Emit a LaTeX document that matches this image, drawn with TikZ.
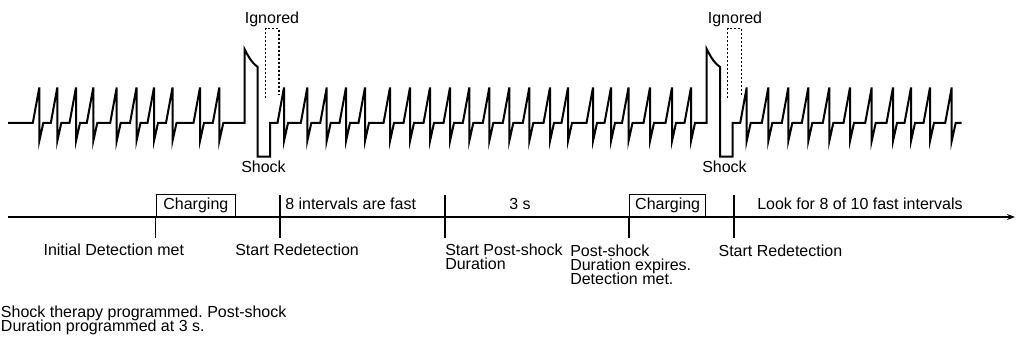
\documentclass[tikz,border=0pt]{standalone}
\usepackage{fontspec}
\setmainfont{Liberation Sans}
\usetikzlibrary{arrows.meta}
\newcommand{\lblfont}{\fontsize{12}{10.5}\selectfont\frenchspacing\lineskiplimit-20pt\relax}
\begin{document}
\begin{tikzpicture}[x=0.75pt,y=-0.75pt,
  ecg/.style={line width=1.5pt, line join=miter},
  axisline/.style={line width=1pt},
  tickline/.style={line width=1pt},
  txt/.style={font=\lblfont},
  chargebox/.style={txt, draw, line width=1pt, inner sep=0pt, minimum height=16.5pt, anchor=south west},
  lbl/.style={txt, inner sep=0pt, anchor=base west, align=left},
  clbl/.style={txt, inner sep=0pt, anchor=base},
  ignbox/.style={line width=0.8pt, dash pattern=on 1.5pt off 1.5pt}]
\useasboundingbox (0,0) rectangle (1016,342);

% ECG trace
\draw[ecg] (8,123)
  \foreach \p in {39.3,57.3,76,93.3,116.7,136.5,154,172.5,200,219.3}{ -- (\p-6.5,123) -- (\p,87.5) -- (\p,141) -- (\p+4,123)}
  -- (244.5,123) -- (244.5,49) .. controls (247.5,55) and (251,62) .. (257.7,67) -- (257.7,156.7) -- (270,156.7) -- (270,123)
  \foreach \p in {284,307.3,326.7,346,365,390,410,430,450,469.3,489.3,509.3,529.3,550,568,593,611,628.5,650,672,691}{ -- (\p-6.5,123) -- (\p,87.5) -- (\p,141) -- (\p+4,123)}
  -- (706.7,123) -- (706.7,49) .. controls (709.7,55) and (713.2,62) .. (720,67) -- (720,156.7) -- (732.7,156.7) -- (732.7,123)
  \foreach \p in {746.7,768.3,788.3,808.3,829.3,850,871.7,893,911,930,951.7}{ -- (\p-6.5,123) -- (\p,87.5) -- (\p,141) -- (\p+4,123)}
  -- (961.7,123);

% Ignored windows and shock labels
\node[clbl] (ign1) at (272,24) {Ignored};
\draw[ignbox] (265.7,98) -- (265.7,28.5) -- (279,28.5) -- (279,95);
\node[clbl] (shk1) at (263.5,172.5) {Shock};
\node[clbl] (ign2) at (735,24) {Ignored};
\draw[ignbox] (727.7,98) -- (727.7,28.5) -- (741.7,28.5) -- (741.7,95);
\node[clbl] (shk2) at (724.5,172.5) {Shock};

% Timeline
\coordinate (tlstart) at (8,217);
\coordinate (tlend) at (1015,217);
\draw[axisline,-{Stealth[length=6pt,width=4.5pt]}] (tlstart) -- (tlend);

\node[chargebox, minimum width=59.25pt] (chg1) at (155.7,217) {Charging};
\node[chargebox, minimum width=57pt] (chg2) at (629,217) {Charging};

\coordinate (t1a) at (155.7,217); \coordinate (t1b) at (155.7,238);
\coordinate (t2a) at (280,195);   \coordinate (t2b) at (280,238);
\coordinate (t3a) at (445,195);   \coordinate (t3b) at (445,238);
\coordinate (t4a) at (629,217);   \coordinate (t4b) at (629,238);
\coordinate (t5a) at (734,195);   \coordinate (t5b) at (734,238);
\draw[tickline] (t1a) -- (t1b);
\draw[tickline] (t2a) -- (t2b);
\draw[tickline] (t3a) -- (t3b);
\draw[tickline] (t4a) -- (t4b);
\draw[tickline] (t5a) -- (t5b);

% Labels above timeline
\node[lbl] (fast) at (285,209.5) {8 intervals are fast};
\node[clbl] (three) at (520,209.5) {3 s};
\node[lbl] (look) at (757,209.5) {Look for 8 of 10 fast intervals};

% Labels below timeline (base of multi-line nodes = last line)
\node[lbl] (init) at (43.3,255) {Initial Detection met};
\node[lbl] (redet1) at (235,255) {Start Redetection};
\node[lbl] (psd) at (445,269) {Start Post-shock\\Duration};
\node[lbl] (psexp) at (570,284) {Post-shock\\Duration expires.\\Detection met.};
\node[lbl] (redet2) at (718.3,256) {Start Redetection};
\node[lbl] (note) at (0.7,331) {Shock therapy programmed. Post-shock\\Duration programmed at 3 s.};
\end{tikzpicture}
\end{document}
